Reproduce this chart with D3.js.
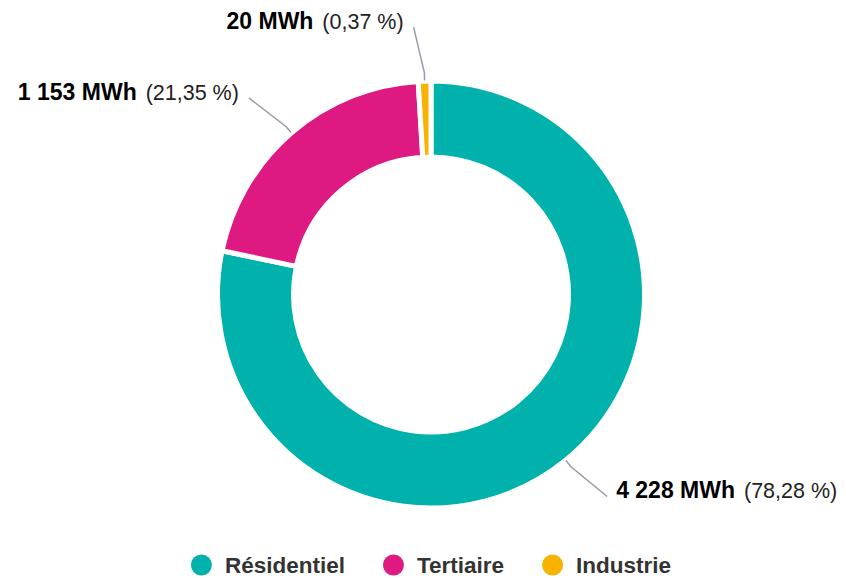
<!DOCTYPE html>
<html>
<head>
<meta charset="utf-8">
<script src="https://cdn.jsdelivr.net/npm/d3@7/dist/d3.min.js"></script>
<style>
  html, body { margin: 0; padding: 0; background: #fff; }
  svg { display: block; font-family: "Liberation Sans", Arial, Helvetica, sans-serif; }
</style>
</head>
<body>
<svg id="chart" width="846" height="578"></svg>
<script>
// ---- data ----
const categories = ["Résidentiel", "Tertiaire", "Industrie"];
const values = [4228, 1153, 20];
const valueLabels = ["4 228 MWh", "1 153 MWh", "20 MWh"];
const percentLabels = ["(78,28 %)", "(21,35 %)", "(0,37 %)"];
const colors = ["#00b1ac", "#de1a82", "#f8b202"];

// ---- layout ----
const W = 846, H = 578;
const cx = 431, cy = 294.5;
const outerR = 213.5, innerR = 137.5;
const minAngle = 0.06; // minimal visible slice angle (rad)

const svg = d3.select("#chart");
const data = categories.map((c, i) => ({ name: c, value: values[i], vl: valueLabels[i], pl: percentLabels[i], color: colors[i] }));

const pie = d3.pie().value(d => d.value).sort(null);
const arcs = pie(data);
// widen tiny slices backwards over the previous slice so they remain visible
for (let i = 1; i < arcs.length; i++) {
  const a = arcs[i];
  if (a.endAngle - a.startAngle < minAngle) {
    a.startAngle = a.endAngle - minAngle;
    arcs[i - 1].endAngle = a.startAngle;
  }
}

const arc = d3.arc().innerRadius(innerR).outerRadius(outerR);
const g = svg.append("g").attr("transform", `translate(${cx},${cy})`);

g.selectAll("path.slice").data(arcs).join("path")
  .attr("class", "slice")
  .attr("d", arc)
  .attr("fill", d => d.data.color)
  .attr("stroke", "#fff")
  .attr("stroke-width", 5)
  .attr("stroke-linejoin", "miter");

// ---- data labels with connectors ----
const ringR = outerR - 2.5;
const pt = (r, a) => [r * Math.sin(a), -r * Math.cos(a)];
const shift = 2 * Math.PI / 180;

arcs.forEach(d => {
  const mid = (d.startAngle + d.endAngle) / 2;
  const p0 = pt(ringR + 3, mid);
  const p1 = pt(ringR + 11, mid);
  const p2 = pt(ringR + 57, mid - shift);
  g.append("path")
    .attr("d", d3.line()([p0, p1, p2]))
    .attr("fill", "none")
    .attr("stroke", "#9a9aa8")
    .attr("stroke-width", 1.5);
  const right = p2[0] > 0;
  const t = g.append("text")
    .attr("x", right ? p2[0] + 9 : p2[0] - 10)
    .attr("y", p2[1] + 2)
    .attr("text-anchor", right ? "start" : "end");
  t.append("tspan")
    .attr("font-weight", "bold")
    .attr("font-size", 23)
    .attr("fill", "#000")
    .text(d.data.vl);
  t.append("tspan")
    .attr("dx", 3)
    .attr("font-size", 21.5)
    .attr("fill", "#222")
    .text(" " + d.data.pl);
});

// ---- legend ----
const legend = svg.append("g");
const circleR = 10.5, textGap = 13, itemGap = 38, legendY = 565;
let x = 0;
data.forEach(d => {
  const it = legend.append("g");
  it.append("circle").attr("cx", circleR).attr("cy", 0).attr("r", circleR).attr("fill", d.color);
  const tx = it.append("text")
    .attr("x", 2 * circleR + textGap)
    .attr("y", 8)
    .attr("font-size", 22.5)
    .attr("font-weight", "bold")
    .attr("fill", "#333")
    .text(d.name);
  const w = 2 * circleR + textGap + tx.node().getComputedTextLength();
  it.attr("transform", `translate(${x},${legendY})`);
  x += w + itemGap;
});
const totalW = x - itemGap;
legend.attr("transform", `translate(${cx - totalW / 2},0)`);
</script>
</body>
</html>
